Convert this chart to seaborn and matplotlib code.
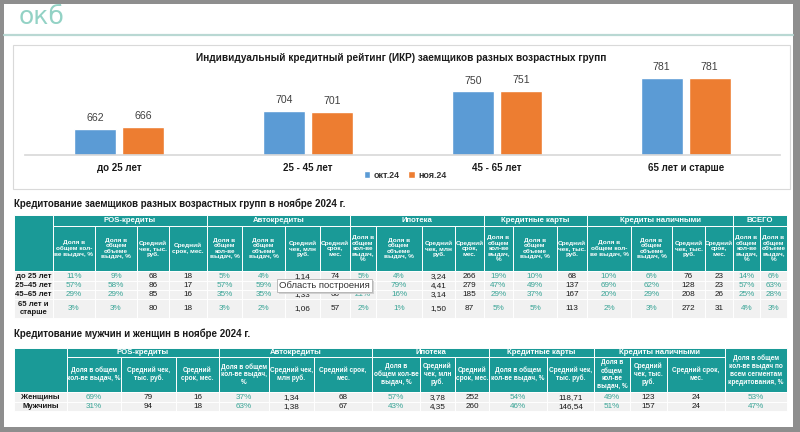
"""ИКР заемщиков разных возрастных групп + таблицы кредитования (слайд ОКБ)."""
import matplotlib
matplotlib.use("Agg")  # headless
import matplotlib.pyplot as plt
import pandas as pd
import seaborn as sns
from matplotlib.patches import Rectangle

# ---- data ------------------------------------------------------------------ #
age_groups = ["до 25 лет", "25 - 45 лет", "45 - 65 лет", "65 лет и старше"]
months = ["окт.24", "ноя.24"]
ikr_oct = [662, 704, 750, 781]
ikr_nov = [666, 701, 751, 781]

t1_groups = [("POS-кредиты", 4), ("Автокредиты", 4), ("Ипотека", 4),
             ("Кредитные карты", 3), ("Кредиты наличными", 4), ("ВСЕГО", 2)]
t1_heads = [
    "Доля в\nобщем кол-\nве выдач, %", "Доля в\nобщем\nобъеме\nвыдач, %",
    "Средний\nчек, тыс.\nруб.", "Средний\nсрок, мес.",
    "Доля в\nобщем\nкол-ве\nвыдач, %", "Доля в\nобщем\nобъеме\nвыдач, %",
    "Средний\nчек, млн\nруб.", "Средний\nсрок,\nмес.",
    "Доля в\nобщем\nкол-ве\nвыдач,\n%", "Доля в\nобщем\nобъеме\nвыдач, %",
    "Средний\nчек, млн\nруб.", "Средний\nсрок,\nмес.",
    "Доля в\nобщем\nкол-ве\nвыдач,\n%", "Доля в\nобщем\nобъеме\nвыдач, %",
    "Средний\nчек, тыс.\nруб.",
    "Доля в\nобщем кол-\nве выдач, %", "Доля в\nобщем\nобъеме\nвыдач, %",
    "Средний\nчек, тыс.\nруб.", "Средний\nсрок,\nмес.",
    "Доля в\nобщем\nкол-ве\nвыдач,\n%", "Доля в\nобщем\nобъеме\nвыдач,\n%",
]
t1_rows = ["до 25 лет", "25–45 лет", "45–65 лет", "65 лет и\nстарше"]
t1_under25 = ["11%", "9%", "68", "18", "5%", "4%", "1,14", "74", "5%", "4%", "3,24", "266",
              "19%", "10%", "68", "10%", "6%", "76", "23", "14%", "6%"]
t1_25_45 = ["57%", "58%", "86", "17", "57%", "59%", "", "", "", "79%", "4,41", "279",
            "47%", "49%", "137", "69%", "62%", "128", "23", "57%", "63%"]
t1_45_65 = ["29%", "29%", "85", "16", "35%", "35%", "1,33", "66", "21%", "16%", "3,14", "185",
            "29%", "37%", "167", "20%", "29%", "208", "26", "25%", "28%"]
t1_65plus = ["3%", "3%", "80", "18", "3%", "2%", "1,06", "57", "2%", "1%", "1,50", "87",
             "5%", "5%", "113", "2%", "3%", "272", "31", "4%", "3%"]

t2_groups = [("POS-кредиты", 3), ("Автокредиты", 3), ("Ипотека", 3),
             ("Кредитные карты", 2), ("Кредиты наличными", 3), (None, 1)]
t2_heads = [
    "Доля в общем\nкол-ве выдач, %", "Средний чек,\nтыс. руб.", "Средний\nсрок, мес.",
    "Доля в общем\nкол-ве выдач,\n%", "Средний чек,\nмлн руб.", "Средний срок,\nмес.",
    "Доля в\nобщем кол-ве\nвыдач, %", "Средний\nчек, млн\nруб.", "Средний\nсрок, мес.",
    "Доля в общем\nкол-ве выдач, %", "Средний чек,\nтыс. руб.",
    "Доля в\nобщем\nкол-ве\nвыдач, %", "Средний\nчек, тыс.\nруб.", "Средний срок,\nмес.",
    "Доля в общем\nкол-ве выдач по\nвсем сегментам\nкредитования, %",
]
t2_rows = ["Женщины", "Мужчины"]
t2_women = ["69%", "79", "16", "37%", "1,34", "68", "57%", "3,78", "252",
            "54%", "118,71", "49%", "123", "24", "53%"]
t2_men = ["31%", "94", "18", "63%", "1,38", "67", "43%", "4,35", "260",
          "46%", "146,54", "51%", "157", "24", "47%"]

# ---- style ----------------------------------------------------------------- #
BLUE, ORANGE = "#5b9bd5", "#ed7d31"
TEAL = "#1a9a97"
PCT = "#3aa597"
ROW_BG = "#f1f1f1"
W, H = 800, 432

sns.set_theme(style="white")
plt.rcParams["font.family"] = ["Liberation Sans", "DejaVu Sans"]

fig = plt.figure(figsize=(W / 100, H / 100), dpi=100, facecolor="#8e8e8e")

# pixel-space background layer for frame, header and tables
bg = fig.add_axes([0, 0, 1, 1], zorder=0)
bg.set_xlim(0, W)
bg.set_ylim(H, 0)
bg.axis("off")
bg.add_patch(Rectangle((4, 4), 789, 423, facecolor="white", edgecolor="none"))
bg.plot([4, 793], [35, 35], color="#b9d8d3", lw=1.6)
bg.text(19, 24, "окб", fontsize=18, color="#93d2c5", va="baseline", ha="left",
        family="DejaVu Sans")
bg.add_patch(Rectangle((13, 45), 777, 144, facecolor="white",
                       edgecolor="#d9d9d9", lw=0.8))


def cell(x0, y0, x1, y1, color):
    bg.add_patch(Rectangle((x0, y0), x1 - x0, y1 - y0, facecolor=color,
                           edgecolor="white", lw=0.7))


def draw_table(x_edges, y_head, y_rows, groups, heads, row_labels, values, head_fs):
    top, mid, hbot = y_head
    cell(x_edges[0], top, x_edges[1], hbot, TEAL)
    i = 1
    for name, n in groups:
        if name is None:
            cell(x_edges[i], top, x_edges[i + n], hbot, TEAL)
            bg.text((x_edges[i] + x_edges[i + n]) / 2, (top + hbot) / 2, heads[i - 1],
                    color="white", fontsize=head_fs, weight="bold", ha="center",
                    va="center", linespacing=1.2)
        else:
            cell(x_edges[i], top, x_edges[i + n], mid, TEAL)
            bg.text((x_edges[i] + x_edges[i + n]) / 2, (top + mid) / 2 + 0.5, name,
                    color="white", fontsize=5.6, weight="bold", ha="center", va="center")
            for j in range(i, i + n):
                cell(x_edges[j], mid, x_edges[j + 1], hbot, TEAL)
                bg.text((x_edges[j] + x_edges[j + 1]) / 2, (mid + hbot) / 2, heads[j - 1],
                        color="white", fontsize=head_fs, weight="bold", ha="center",
                        va="center", linespacing=1.12)
        i += n
    for r, (label, vals) in enumerate(zip(row_labels, values)):
        y0, y1 = y_rows[r], y_rows[r + 1]
        cell(x_edges[0], y0, x_edges[1], y1, ROW_BG)
        bg.text((x_edges[0] + x_edges[1]) / 2, (y0 + y1) / 2 + 0.3, label, fontsize=5.6,
                weight="bold", color="#1a1a1a", ha="center", va="center",
                linespacing=1.2)
        for c, v in enumerate(vals):
            cell(x_edges[c + 1], y0, x_edges[c + 2], y1, ROW_BG)
            bg.text((x_edges[c + 1] + x_edges[c + 2]) / 2, (y0 + y1) / 2 + 0.3, v,
                    fontsize=5.9, ha="center", va="center",
                    color=PCT if v.endswith("%") else "#1a1a1a")


# ---- bar chart --------------------------------------------------------------- #
df = pd.DataFrame({
    "group": age_groups * 2,
    "month": [months[0]] * 4 + [months[1]] * 4,
    "ikr": ikr_oct + ikr_nov,
})
ax = fig.add_axes([25 / W, 1 - 155 / H, 755 / W, 106.5 / H], zorder=1)
ax.patch.set_alpha(0)
sns.barplot(data=df, x="group", y="ikr", hue="month", palette=[BLUE, ORANGE],
            width=0.508, gap=0.125, ax=ax, saturation=1)
ax.set_ylim(600, 850)
ax.set_xlim(-0.5, 3.5)
for cont in ax.containers:
    ax.bar_label(cont, padding=4, fontsize=7.6, color="#404040")
sns.despine(ax=ax, left=True)
ax.spines["bottom"].set_color("#d9d9d9")
ax.set_yticks([])
ax.set_xlabel("")
ax.set_ylabel("")
ax.tick_params(axis="x", length=0, pad=6)
for lbl in ax.get_xticklabels():
    lbl.set_fontsize(7)
    lbl.set_fontweight("bold")
    lbl.set_color("#1a1a1a")
handles, labels = ax.get_legend_handles_labels()
leg = ax.legend(handles, labels, loc="center", bbox_to_anchor=(405 / W, 1 - 175 / H),
                bbox_transform=fig.transFigure, ncol=2, frameon=False, fontsize=6.4,
                handlelength=0.7, handleheight=0.7, handletextpad=0.4,
                columnspacing=1.0)
for t in leg.get_texts():
    t.set_fontweight("bold")
    t.set_color("#333333")
fig.text(401 / W, 1 - 58 / H,
         "Индивидуальный кредитный рейтинг (ИКР) заемщиков разных возрастных групп",
         ha="center", va="center", fontsize=7.2, weight="bold", color="#1a1a1a")

# ---- tables ------------------------------------------------------------------ #
bg.text(14, 204, "Кредитование заемщиков разных возрастных групп в ноябре 2024 г.",
        fontsize=7, weight="bold", color="#1a1a1a", va="center")
t1_x = [14, 53, 95, 137, 169, 207, 242, 285, 320, 350, 376, 422, 455, 484, 513,
        557, 587, 631, 672, 705, 733, 760, 787]
draw_table(t1_x, (215, 226, 271), [271, 280.5, 289.5, 298.5, 318], t1_groups,
           t1_heads, t1_rows, [t1_under25, t1_25_45, t1_45_65, t1_65plus], 4.6)

bg.text(14, 334, "Кредитование мужчин и женщин в ноябре 2024 г.",
        fontsize=7, weight="bold", color="#1a1a1a", va="center")
t2_x = [14, 67, 121, 176, 219, 269, 314, 372, 420, 455, 489, 547, 594, 630, 667,
        725, 787]
draw_table(t2_x, (348, 357, 392), [392, 402, 411], t2_groups, t2_heads, t2_rows,
           [t2_women, t2_men], 4.7)

# hover tooltip captured in the screenshot
bg.add_patch(Rectangle((278.5, 280.5), 95, 13, facecolor="#d0d0d0",
                       edgecolor="none", zorder=4))
bg.add_patch(Rectangle((277, 279), 95, 13, facecolor="white",
                       edgecolor="#b0b0b0", lw=0.6, zorder=5))
bg.text(324.5, 285.8, "Область построения", fontsize=6.8, color="#333333",
        ha="center", va="center", zorder=6)

fig.savefig("out.png", dpi=100, facecolor=fig.get_facecolor())
